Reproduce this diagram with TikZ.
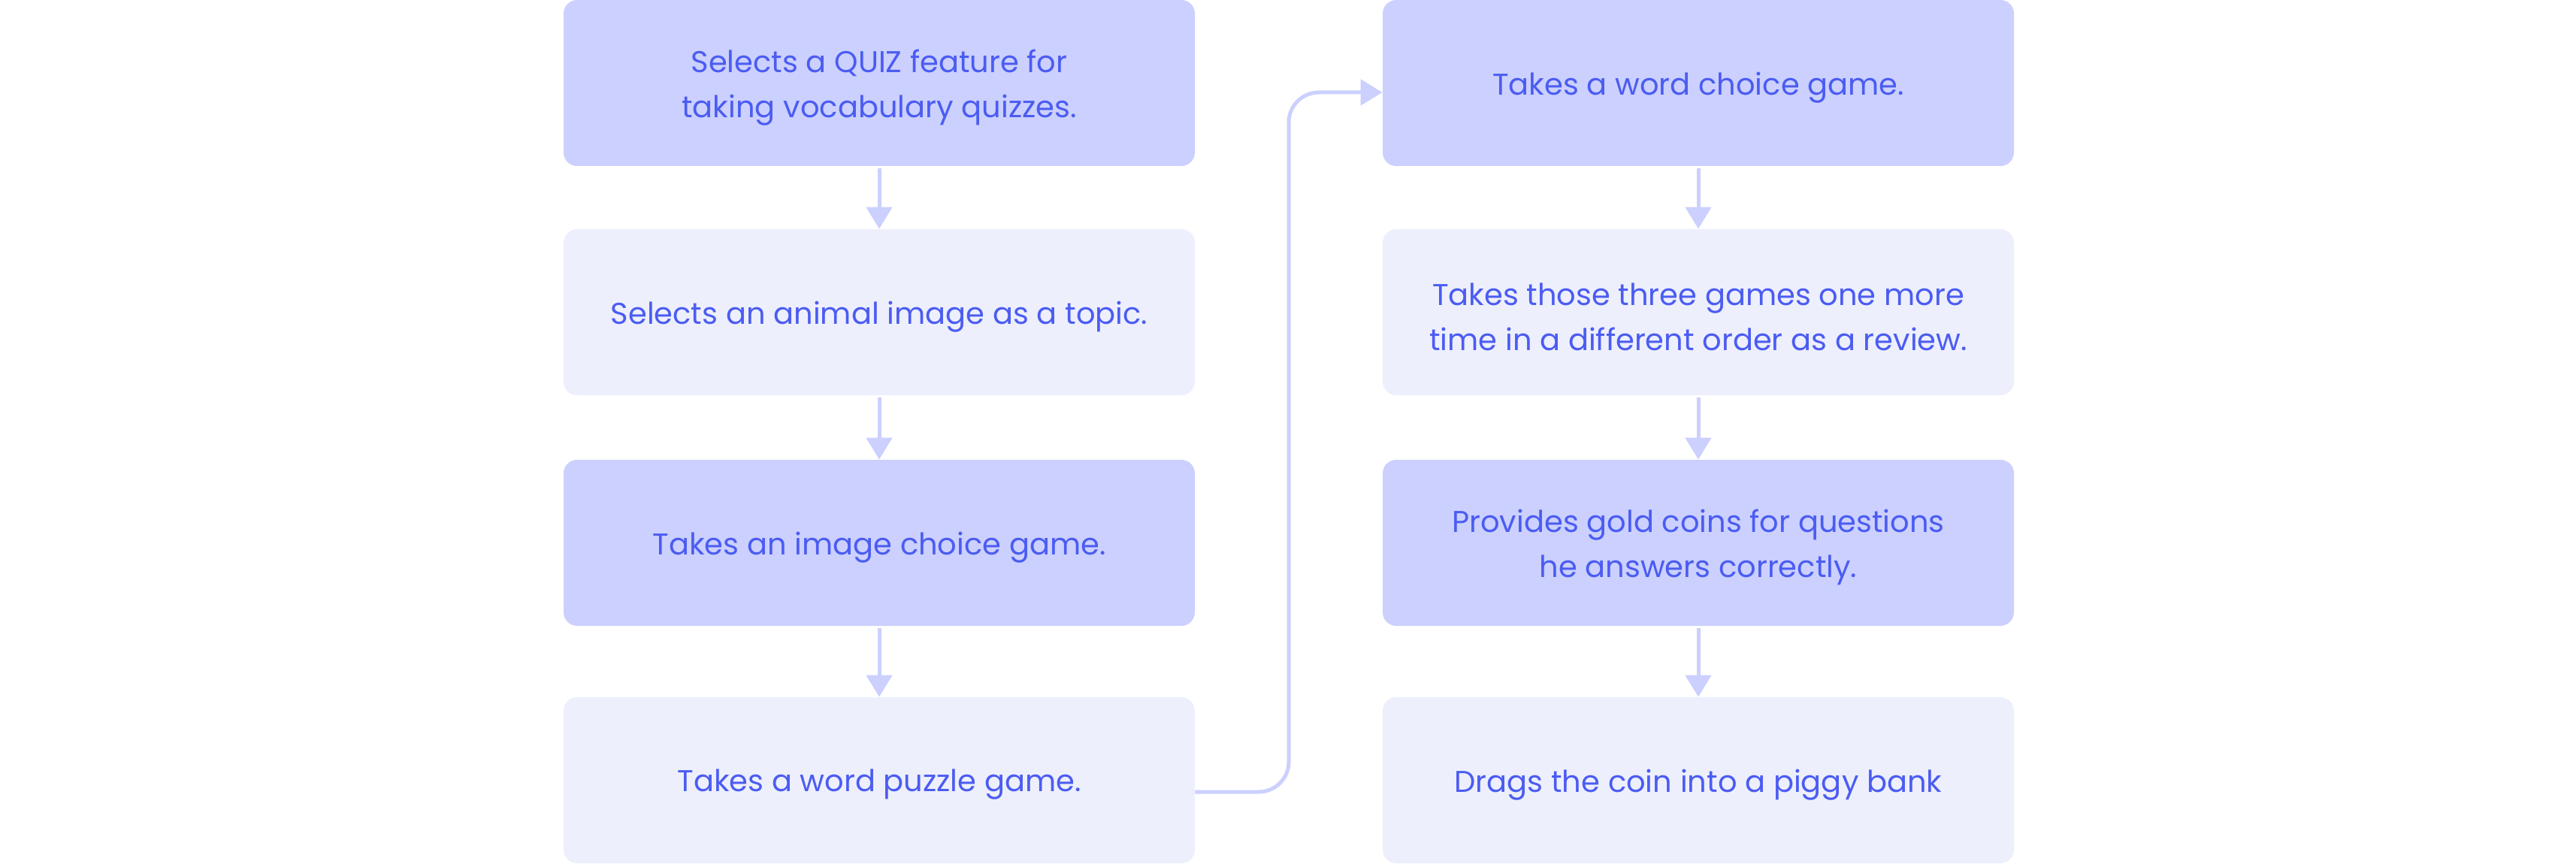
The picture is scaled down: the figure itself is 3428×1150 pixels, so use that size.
\documentclass[tikz,border=0pt]{standalone}
\usepackage{fontspec}
\setmainfont{Poppins}
\usetikzlibrary{arrows.meta,calc}
\definecolor{boxdark}{HTML}{CBD0FE}
\definecolor{boxlight}{HTML}{EDEFFD}
\definecolor{txtblue}{HTML}{4B5CF2}
\definecolor{arrowc}{HTML}{CBD0FE}
\begin{document}
\begin{tikzpicture}[x=0.5pt,y=-0.5pt,
  box/.style={rectangle, rounded corners=9pt, minimum width=420pt, minimum height=110.5pt,
    inner sep=0pt},
  darkbox/.style={box, fill=boxdark},
  lightbox/.style={box, fill=boxlight},
  txt/.style={inner sep=0pt, align=center, text=txtblue, font=\fontsize{20pt}{30pt}\selectfont},
  conn/.style={draw=arrowc, line width=2.5pt, -{Triangle[width=17pt,length=14.5pt]}}
]
\useasboundingbox (0,0) rectangle (3428,1150);
\node[darkbox]  (l1) at (1170,110.5) {};
\node[lightbox] (l2) at (1170,415.5) {};
\node[darkbox]  (l3) at (1170,722.5) {};
\node[lightbox] (l4) at (1170,1038.5) {};
\node[darkbox]  (r1) at (2260,110.5) {};
\node[lightbox] (r2) at (2260,415.5) {};
\node[darkbox]  (r3) at (2260,722.5) {};
\node[lightbox] (r4) at (2260,1038.5) {};
\node[txt] (l1t) at ([yshift=-3pt]l1.center) {Selects a QUIZ feature for\\taking vocabulary quizzes.};
\node[txt] (l2t) at ([yshift=-3pt]l2.center) {Selects an animal image as a topic.};
\node[txt] (l3t) at ([yshift=-3pt]l3.center) {Takes an image choice game.};
\node[txt] (l4t) at ([yshift=-3pt]l4.center) {Takes a word puzzle game.};
\node[txt] (r1t) at ([yshift=-3pt]r1.center) {Takes a word choice game.};
\node[txt] (r2t) at ([yshift=-3pt]r2.center) {Takes those three games one more\\time in a different order as a review.};
\node[txt] (r3t) at ([yshift=-3pt]r3.center) {Provides gold coins for questions\\he answers correctly.};
\node[txt] (r4t) at ([yshift=-3pt]r4.center) {Drags the coin into a piggy bank};
\draw[conn] ([yshift=-1.5pt]l1.south) -- (l2.north);
\draw[conn] ([yshift=-1.5pt]l2.south) -- (l3.north);
\draw[conn] ([yshift=-1.5pt]l3.south) -- (l4.north);
\draw[conn] ([yshift=-1.5pt]r1.south) -- (r2.north);
\draw[conn] ([yshift=-1.5pt]r2.south) -- (r3.north);
\draw[conn] ([yshift=-1.5pt]r3.south) -- (r4.north);
\coordinate (s) at ($(l4.east)+(0,15.5)$);
\coordinate (e) at ($(r1.west)+(0,12.5)$);
\draw[conn, rounded corners=20pt] (s) -- (1715,1054) -- (1715,123) -- (e);
\end{tikzpicture}
\end{document}
